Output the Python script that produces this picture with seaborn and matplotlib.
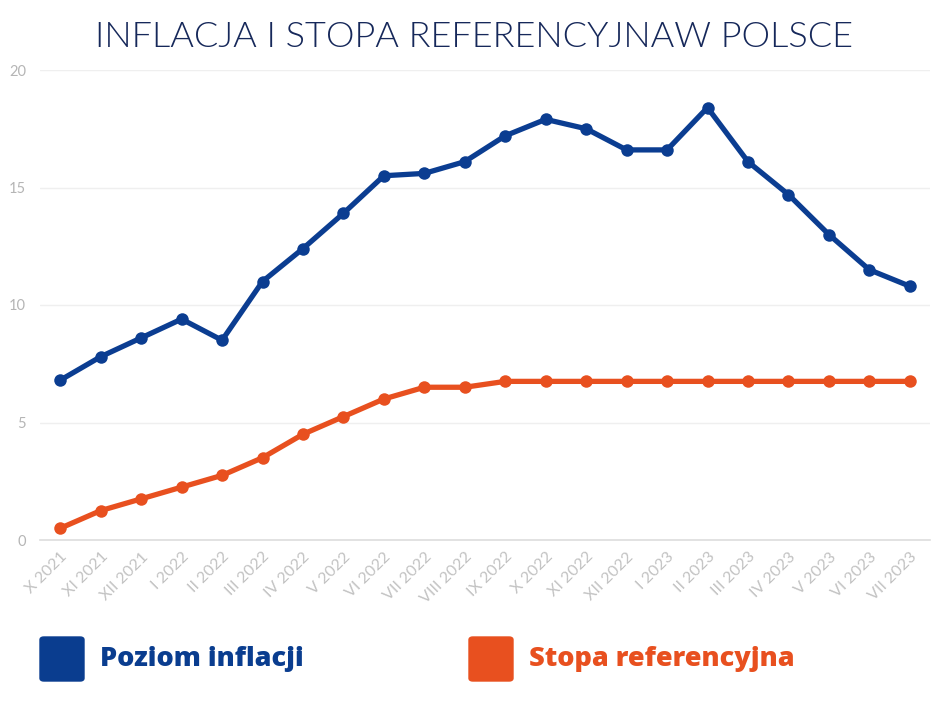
import matplotlib
matplotlib.use("Agg")
import matplotlib.pyplot as plt
import seaborn as sns
import pandas as pd
from matplotlib.patches import FancyBboxPatch

# dane
miesiace = ["X 2021", "XI 2021", "XII 2021", "I 2022", "II 2022", "III 2022",
            "IV 2022", "V 2022", "VI 2022", "VII 2022", "VIII 2022", "IX 2022",
            "X 2022", "XI 2022", "XII 2022", "I 2023", "II 2023", "III 2023",
            "IV 2023", "V 2023", "VI 2023", "VII 2023"]
inflacja = [6.8, 7.8, 8.6, 9.4, 8.5, 11.0, 12.4, 13.9, 15.5, 15.6, 16.1, 17.2,
            17.9, 17.5, 16.6, 16.6, 18.4, 16.1, 14.7, 13.0, 11.5, 10.8]
stopa = [0.5, 1.25, 1.75, 2.25, 2.75, 3.5, 4.5, 5.25, 6.0, 6.5, 6.5, 6.75,
         6.75, 6.75, 6.75, 6.75, 6.75, 6.75, 6.75, 6.75, 6.75, 6.75]
y_ticks = [0, 5, 10, 15, 20]

NIEBIESKI = "#0b3d91"
POMARANCZ = "#e8501f"

df = pd.DataFrame({
    "x": list(range(len(miesiace))) * 2,
    "wartosc": inflacja + stopa,
    "seria": ["Poziom inflacji"] * len(miesiace) + ["Stopa referencyjna"] * len(miesiace),
})

sns.set_theme(style="white")
plt.rcParams["font.family"] = ["Lato", "DejaVu Sans"]

fig = plt.figure(figsize=(9.48, 7.03), dpi=100)
ax = fig.add_axes([40 / 948, 1 - 540 / 703, 890 / 948, 470 / 703])

sns.lineplot(data=df, x="x", y="wartosc", hue="seria",
             palette={"Poziom inflacji": NIEBIESKI, "Stopa referencyjna": POMARANCZ},
             marker="o", markersize=9, markeredgewidth=0, linewidth=3.8,
             legend=False, ax=ax, clip_on=False, zorder=3)

ax.set_xlim(-0.5, len(miesiace) - 0.5)
ax.set_ylim(0, 20)
ax.set_yticks(y_ticks)
ax.set_xticks(range(len(miesiace)))
ax.set_xticklabels(miesiace, rotation=45, ha="right", va="top",
                   rotation_mode="anchor", color="#c2c2c2", fontsize=11.5)
ax.set_yticklabels([str(t) for t in y_ticks], color="#b5b5b5", fontsize=10.5)
ax.tick_params(axis="x", pad=7, length=0)
ax.tick_params(axis="y", pad=10, length=0)
ax.set_xlabel("")
ax.set_ylabel("")
ax.grid(axis="y", color="#efefef", linewidth=1)
for s in ["top", "right", "left"]:
    ax.spines[s].set_visible(False)
ax.spines["bottom"].set_color("#dddddd")
ax.spines["bottom"].set_linewidth(1.2)

fig.text(0.5, 1 - 37 / 703, "INFLACJA I STOPA REFERENCYJNAW POLSCE",
         ha="center", va="center", fontsize=26, color="#16285a",
         fontweight=300, family=["Lato", "DejaVu Sans"])

# legenda
for x0, kolor, tekst in [(40, "#0a3d8f", "Poziom inflacji"),
                         (469, POMARANCZ, "Stopa referencyjna")]:
    fig.patches.append(FancyBboxPatch((x0 / 948, 1 - 681 / 703), 44 / 948, 44 / 703,
                                      boxstyle="round,pad=0,rounding_size=0.004",
                                      transform=fig.transFigure, color=kolor))
    fig.text((x0 + 60) / 948, 1 - 659 / 703, tekst, ha="left", va="center",
             fontsize=19.5, fontweight=800, color=kolor,
             family=["Open Sans", "DejaVu Sans"])

fig.savefig("out.png", dpi=100)
